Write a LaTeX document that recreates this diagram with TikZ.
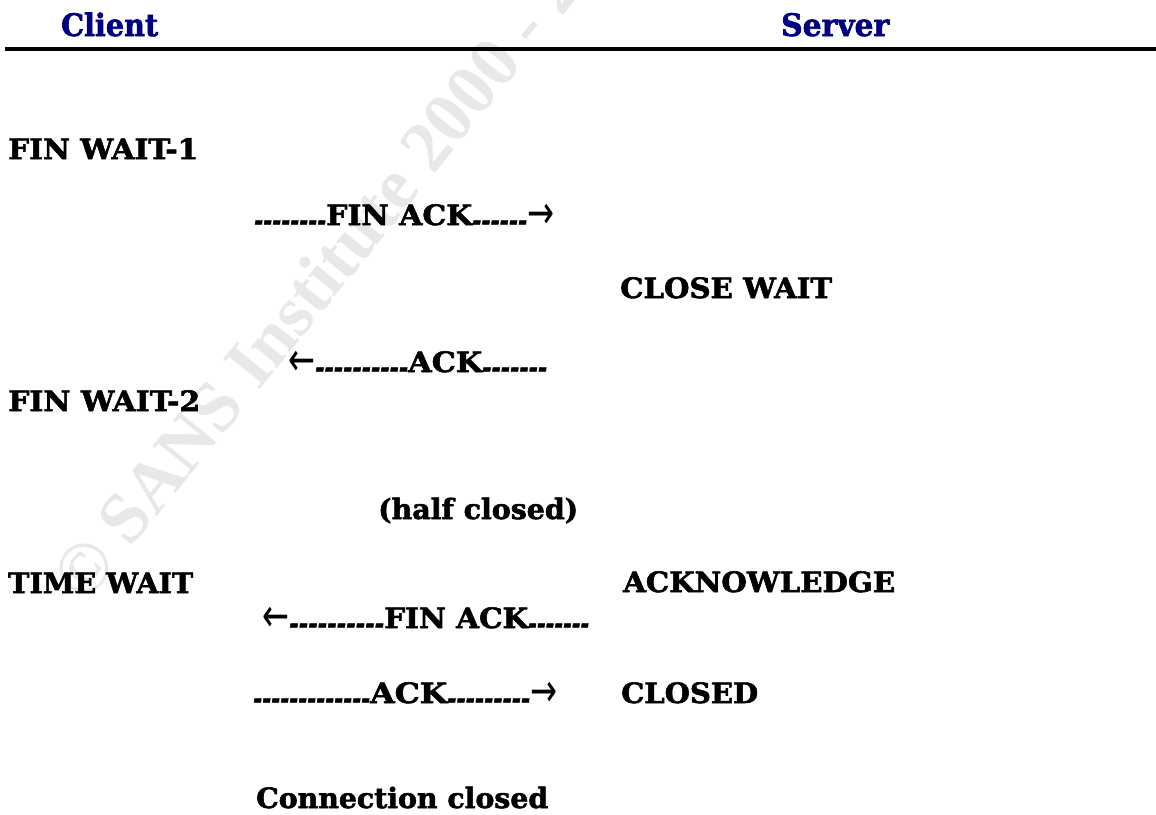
\documentclass[tikz,border=0pt]{standalone}
\usepackage{fontspec}
\usepackage{graphicx}
\newfontfamily\bodyfont{DejaVu Serif}[BoldFeatures={FakeBold=2}, BoldItalicFeatures={FakeBold=2}]
\newfontfamily\arrowfont{DejaVu Sans}
\newfontfamily\wmfont{Liberation Serif}
\definecolor{navyhead}{RGB}{0,0,128}
\definecolor{wmgray}{gray}{0.91}
\newcommand\fitto[2]{\resizebox{#1pt}{\height}{#2}}
\newcommand\dsh[2]{\fitto{#1}{\raisebox{-5pt}{\itshape #2}}}
\newcommand\rarr{\fitto{27}{\raisebox{-3pt}{\arrowfont\mdseries\upshape\fontsize{46}{46}\selectfont →}}}
\newcommand\larr{\fitto{27}{\raisebox{-3pt}{\arrowfont\mdseries\upshape\fontsize{46}{46}\selectfont ←}}}
\tikzset{
  lbl/.style={anchor=base west, inner sep=0pt, text=black,
    font=\bodyfont\bfseries\fontsize{28}{28}\selectfont},
  head/.style={anchor=base west, inner sep=0pt, text=navyhead,
    font=\bodyfont\bfseries\fontsize{31}{31}\selectfont},
  wmark/.style={anchor=base west, inner sep=0pt, text=wmgray, rotate=51,
    font=\wmfont\bfseries\fontsize{72}{72}\selectfont}
}
\begin{document}
\begin{tikzpicture}[x=1pt,y=-1pt]
\useasboundingbox (0,0) rectangle (1156,814);
\fill[white] (0,0) rectangle (1156,814);
\begin{scope}
\clip (0,0) rectangle (1156,814);
\node[wmark] (wm) at (433,176) {\llap{© SANS Institute }2000 - 2};
\end{scope}
% header
\node[head] (client) at (61,36) {\fitto{97}{Client}};
\node[head] (server) at (781,36) {\fitto{108}{Server}};
\draw[line width=4pt] (5,49) -- (1156,49);
% client states
\node[lbl] (fw1) at (8,159) {\fitto{190}{FIN WAIT-1}};
\node[lbl] (fw2) at (8,411) {\fitto{192}{FIN WAIT-2}};
\node[lbl] (tw)  at (8,593) {\fitto{185}{TIME WAIT}};
% server states
\node[lbl] (cw)  at (620,298) {\fitto{212}{CLOSE WAIT}};
\node[lbl] (ackn) at (623,592) {\fitto{272}{ACKNOWLEDGE}};
\node[lbl] (closed) at (621,703) {\fitto{137}{CLOSED}};
% messages
\node[lbl] (m1) at (254,225) {\dsh{72}{--------}\fitto{146}{FIN ACK}\dsh{55}{------}\rarr};
\node[lbl] (m2) at (288,372) {\larr\dsh{93}{----------}\fitto{74}{ACK}\dsh{65}{-------}};
\node[lbl] (half) at (378,519) {\fitto{200}{(half closed)}};
\node[lbl] (m3) at (262,628) {\larr\dsh{95}{----------}\fitto{144}{FIN ACK}\dsh{61}{-------}};
\node[lbl] (m4) at (253,703) {\dsh{117}{-------------}\fitto{77}{ACK}\dsh{83}{---------}\rarr};
\node[lbl] (cc) at (256,808) {\fitto{292}{Connection closed}};
\end{tikzpicture}
\end{document}
